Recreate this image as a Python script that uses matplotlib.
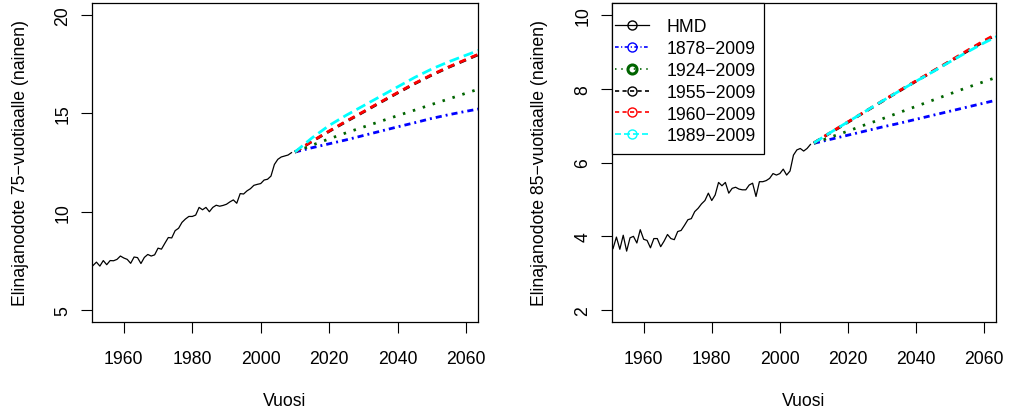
import matplotlib
matplotlib.use("Agg")
import matplotlib.pyplot as plt
from matplotlib.lines import Line2D
from matplotlib.patches import Rectangle

plt.rcParams['font.family'] = ['Liberation Sans', 'DejaVu Sans']

# ---------------- data ----------------
hmd_years = list(range(1951, 2010))
hmd75 = [7.27, 7.44, 7.24, 7.52, 7.31, 7.52, 7.51, 7.58, 7.75, 7.65,
         7.58, 7.38, 7.70, 7.67, 7.37, 7.68, 7.83, 7.75, 7.81, 8.15,
         8.10, 8.40, 8.69, 8.67, 9.04, 9.16, 9.46, 9.63, 9.76, 9.76,
         9.83, 10.22, 10.10, 10.22, 10.00, 10.22, 10.33, 10.28, 10.32, 10.38,
         10.50, 10.60, 10.43, 10.92, 10.90, 11.06, 11.17, 11.34, 11.39, 11.43,
         11.61, 11.65, 11.81, 12.40, 12.66, 12.78, 12.83, 12.88, 13.00]
hmd85 = [3.67, 3.98, 3.65, 4.03, 3.60, 3.96, 4.00, 3.82, 4.18, 3.92,
         3.89, 3.69, 3.94, 3.94, 3.72, 3.87, 4.05, 3.94, 3.91, 4.13,
         4.16, 4.30, 4.45, 4.48, 4.67, 4.76, 4.88, 4.97, 5.17, 4.97,
         5.12, 5.46, 5.37, 5.46, 5.17, 5.30, 5.33, 5.28, 5.26, 5.26,
         5.39, 5.44, 5.08, 5.48, 5.48, 5.51, 5.57, 5.70, 5.66, 5.70,
         5.82, 5.66, 5.77, 6.20, 6.34, 6.38, 6.31, 6.38, 6.49]

proj_years = [2010, 2015, 2020, 2025, 2030, 2035, 2040, 2045, 2050, 2055, 2060, 2065]
labels = ["HMD", "1878\u22122009", "1924\u22122009", "1955\u22122009", "1960\u22122009", "1989\u22122009"]

p75_1878 = [13.03, 13.25, 13.45, 13.65, 13.87, 14.09, 14.31, 14.52, 14.74, 14.93, 15.10, 15.26]
p75_1924 = [13.03, 13.38, 13.70, 14.01, 14.30, 14.59, 14.88, 15.16, 15.45, 15.73, 16.02, 16.30]
p75_1955 = [13.03, 13.57, 14.08, 14.58, 15.06, 15.55, 16.03, 16.50, 16.94, 17.34, 17.71, 18.08]
p75_1960 = [13.03, 13.58, 14.10, 14.60, 15.08, 15.57, 16.05, 16.52, 16.96, 17.36, 17.73, 18.10]
p75_1989 = [13.03, 13.75, 14.38, 14.90, 15.38, 15.86, 16.34, 16.82, 17.25, 17.62, 17.95, 18.28]

p85_1878 = [6.52, 6.63, 6.74, 6.85, 6.96, 7.06, 7.17, 7.28, 7.39, 7.50, 7.61, 7.72]
p85_1924 = [6.52, 6.69, 6.85, 7.02, 7.18, 7.35, 7.52, 7.69, 7.86, 8.03, 8.19, 8.35]
p85_1955 = [6.53, 6.81, 7.09, 7.37, 7.65, 7.93, 8.20, 8.47, 8.74, 9.01, 9.28, 9.53]
p85_1960 = [6.53, 6.82, 7.10, 7.38, 7.66, 7.94, 8.21, 8.48, 8.75, 9.03, 9.30, 9.55]
p85_1989 = [6.53, 6.82, 7.10, 7.38, 7.66, 7.93, 8.20, 8.46, 8.73, 8.99, 9.24, 9.47]

xticks = [1960, 1980, 2000, 2020, 2040, 2060]
yticks75 = [5, 10, 15, 20]
yticks85 = [2, 4, 6, 8, 10]

# ---------------- styles ----------------
FS = 12.7
styles = [
    dict(color='black', lw=0.9, ls='-'),
    dict(color='#0000FF', lw=2.0, ls=(0, (2.2, 1.45, 0.7, 1.45))),
    dict(color='#006400', lw=2.0, ls=(0, (0.9, 2.85))),
    dict(color='black', lw=2.0, ls=(0, (2.5, 2.0))),
    dict(color='#FF0000', lw=2.0, ls=(0, (2.5, 2.0))),
    dict(color='#00FFFF', lw=2.0, ls=(0, (3.6, 1.8))),
]

fig = plt.figure(figsize=(10.11, 4.14), dpi=100)
axL = fig.add_axes([92/1011, 1-323/414, 386/1011, 319/414])
axR = fig.add_axes([612/1011, 1-323/414, 384/1011, 319/414])

def draw(ax, hmd, projs, ylim, yticks, ylabel):
    ax.plot(hmd_years, hmd, **styles[0])
    for st, p in zip(styles[1:], projs):
        ax.plot(proj_years, p, **st)
    ax.set_xlim(1950.7, 2063.5)
    ax.set_ylim(*ylim)
    ax.set_xticks(xticks)
    ax.set_yticks(yticks)
    ax.tick_params(direction='out', length=8, width=0.8, pad=12, labelsize=FS, colors='black')
    ax.tick_params(axis='y', labelrotation=90, pad=7.0)
    for lab in ax.get_yticklabels():
        lab.set_va('center')
    for s in ax.spines.values():
        s.set_linewidth(0.9)
    ax.set_xlabel("Vuosi", fontsize=FS)
    ax.xaxis.set_label_coords(0.5, -0.218)
    ax.set_ylabel(ylabel, fontsize=FS)

draw(axL, hmd75, [p75_1878, p75_1924, p75_1955, p75_1960, p75_1989], (4.4, 20.6), yticks75,
     "Elinajanodote 75\u2212vuotiaalle (nainen)")
axL.yaxis.set_label_coords(-0.1636, 0.5)
draw(axR, hmd85, [p85_1878, p85_1924, p85_1955, p85_1960, p85_1989], (1.68, 10.32), yticks85,
     "Elinajanodote 85\u2212vuotiaalle (nainen)")
axR.yaxis.set_label_coords(-0.1666, 0.5)

# legend frame (manual, to match R's padding)
frame = Rectangle((0, 1 - 151/319), 152/384, 151/319, transform=axR.transAxes,
                  facecolor='white', edgecolor='black', lw=0.9, zorder=4, clip_on=False)
axR.add_patch(frame)

handles = []
for i, st in enumerate(styles):
    mew = 2.2 if i == 2 else 1.0
    handles.append(Line2D([], [], color=st['color'], lw=1.2 if i else 0.9, ls=st['ls'],
                          marker='o', markersize=6.5, mfc='none', mew=mew))
leg = axR.legend(handles, labels, loc='upper left', bbox_to_anchor=(3/384, 1 - 15.5/319),
                 borderaxespad=0, fontsize=FS, frameon=False,
                 handlelength=1.9, handletextpad=1.0, labelspacing=0.27, borderpad=0)
leg.set_zorder(5)

fig.savefig("out.png", dpi=100)
